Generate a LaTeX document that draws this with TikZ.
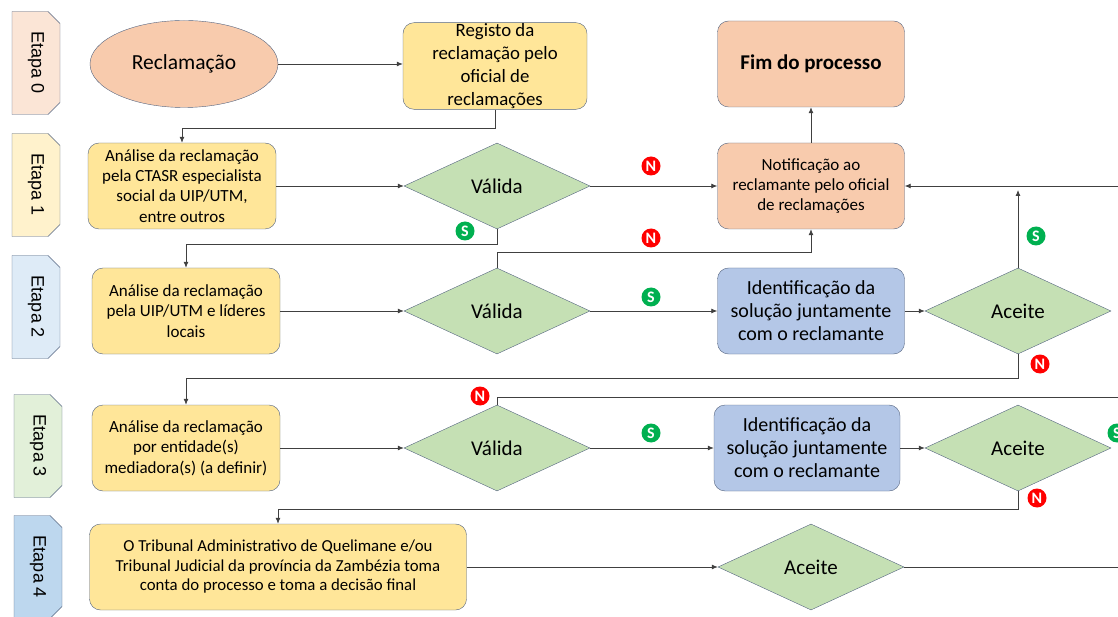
\documentclass[tikz,border=0pt]{standalone}
\usepackage{fontspec}
\setmainfont{Carlito}
\newfontfamily\tabfont{Liberation Sans}
\usepackage{tikz}
\usetikzlibrary{shapes.geometric, shapes.misc, arrows.meta, positioning, calc}
\definecolor{peach}{HTML}{F8CBAD}
\definecolor{sand}{HTML}{FFE699}
\definecolor{leaf}{HTML}{C5E0B4}
\definecolor{sky}{HTML}{B4C7E7}
\definecolor{slate}{RGB}{84,100,128}
\definecolor{wire}{RGB}{64,64,64}
\definecolor{badgered}{HTML}{FF0000}
\definecolor{badgegreen}{HTML}{00B050}
\definecolor{tabpeach}{HTML}{FBE5D6}
\definecolor{tabsand}{HTML}{FFF2CC}
\definecolor{tabsky}{HTML}{DEEBF7}
\definecolor{tableaf}{HTML}{E2F0D9}
\definecolor{tabsteel}{HTML}{BDD7EE}

\begin{document}
\begin{tikzpicture}[
    x=1pt, y=-1pt,
    etapatab/.style={chamfered rectangle, chamfered rectangle corners={north west,north east},
        chamfered rectangle xsep=6pt, chamfered rectangle ysep=6pt,
        draw=slate, rotate=-90, minimum width=103, minimum height=48, inner sep=0,
        font=\tabfont\fontsize{18}{20}\selectfont},
    box/.style={rectangle, rounded corners=11pt, draw=slate, fill=sand, minimum width=188,
        minimum height=86, align=center, inner sep=1pt, font=\fontsize{17}{20.3}\selectfont},
    bigbox/.style={box, font=\fontsize{19.5}{22.5}\selectfont},
    decision/.style={diamond, draw=slate, fill=leaf, minimum width=186, minimum height=86,
        inner sep=0, font=\fontsize{21}{24}\selectfont},
    badge/.style={circle, inner sep=0, minimum size=19, text=white, font=\bfseries\fontsize{16}{16}\selectfont},
    nbadge/.style={badge, fill=badgered},
    sbadge/.style={badge, fill=badgegreen},
    arrow/.style={-{Latex[length=6pt,width=5pt]}, draw=wire, line width=0.8pt},
    wireline/.style={draw=wire, line width=0.8pt}
]
\useasboundingbox (0,0) rectangle (1118,617);

% Etapas
\node[etapatab, fill=tabpeach] (e0) at (36,63) {Etapa 0};
\node[etapatab, fill=tabsand] (e1) at (36,185) {Etapa 1};
\node[etapatab, fill=tabsky] (e2) at (36,307) {Etapa 2};
\node[etapatab, fill=tableaf] (e3) at (38,446) {Etapa 3};
\node[etapatab, fill=tabsteel] (e4) at (38,567) {Etapa 4};

% Etapa 0
\node[ellipse, draw=slate, fill=peach, minimum width=188, minimum height=87,
    font=\fontsize{21.5}{24}\selectfont] (recl) at (184,64) {Reclamação};
\node[bigbox, minimum width=184, font=\fontsize{18.8}{22.8}\selectfont] (registo) at (495,66) {Registo da\\reclamação pelo\\oficial de\\reclamações};
\node[box, fill=peach, minimum width=187, font=\bfseries\fontsize{21}{24}\selectfont] (fim) at (811,64) {Fim do processo};

% Etapa 1
\node[box] (an1) at (182,186) {Análise da reclamação\\pela CTASR especialista\\social da UIP/UTM,\\entre outros};
\node[decision] (val1) at (497,186) {Válida};
\node[box, fill=peach, minimum width=187] (notif) at (811,186) {Notificação ao\\reclamante pelo oficial\\de reclamações};

% Etapa 2
\node[box] (an2) at (186,311) {Análise da reclamação\\pela UIP/UTM e líderes\\locais};
\node[decision] (val2) at (497,311) {Válida};
\node[bigbox, fill=sky, minimum width=187, font=\fontsize{20}{23}\selectfont] (id2) at (811,311) {Identificação da\\solução juntamente\\com o reclamante};
\node[decision] (ac2) at (1018,311) {Aceite};

% Etapa 3
\node[box] (an3) at (186,448) {Análise da reclamação\\por entidade(s)\\mediadora(s) (a definir)};
\node[decision] (val3) at (497,448) {Válida};
\node[bigbox, fill=sky, minimum width=186, font=\fontsize{20}{23}\selectfont] (id3) at (807,448) {Identificação da\\solução juntamente\\com o reclamante};
\node[decision] (ac3) at (1018,448) {Aceite};

% Etapa 4
\node[box, minimum width=377, font=\fontsize{16.8}{19.5}\selectfont] (trib) at (278,567) {O Tribunal Administrativo de Quelimane e/ou\\Tribunal Judicial da província da Zambézia toma\\conta do processo e toma a decisão final};
\node[decision] (ac4) at (811,567) {Aceite};

% loose ends at the right border
\coordinate (rin) at (1118,186);
\coordinate (rout3) at (1118,397);
\coordinate (rout4) at (1118,567);

% Arrows
\draw[arrow] (recl) -- (registo.west |- recl.east);
\draw[arrow] (registo.south) -- ++(0,19) -| (an1.north);
\draw[arrow] (an1) -- (val1);
\draw[arrow] (val1) -- (notif);
\draw[arrow] (notif) -- (fim);
\draw[arrow] (val1.south) -- ++(0,15) -| (an2.north);
\draw[arrow] (an2) -- (val2);
\draw[arrow] (val2.north) -- ++(0,-15) -| (notif.south);
\draw[arrow] (val2) -- (id2);
\draw[arrow] (id2) -- (ac2);
\draw[arrow] (ac2.north) -- ($(ac2.north |- notif.east)+(0,4)$);
\draw[arrow] (rin) -- (notif.east);
\draw[arrow] (ac2.south) -- ++(0,24) -| (an3.north);
\draw[arrow] (an3) -- (val3);
\draw[wireline] (val3.north) |- (rout3);
\draw[arrow] (val3) -- (id3);
\draw[arrow] (id3) -- (ac3);
\draw[arrow] (ac3.south) -- ++(0,18) -| (trib.north);
\draw[arrow] (trib) -- (ac4);
\draw[wireline] (ac4.east) -- (rout4);

% Labels
\node[nbadge] (n1) at (651,166) {N};
\node[sbadge] (s1) at (465,231) {S};
\node[nbadge] (n2) at (651,238) {N};
\node[sbadge] (s2) at (651,297) {S};
\node[sbadge] (s3) at (1036,236) {S};
\node[nbadge] (n3) at (1040,364) {N};
\node[nbadge] (n4) at (480,396) {N};
\node[sbadge] (s4) at (651,433) {S};
\node[sbadge] (s5) at (1117,433) {S};
\node[nbadge] (n5) at (1037,498) {N};

\end{tikzpicture}
\end{document}
